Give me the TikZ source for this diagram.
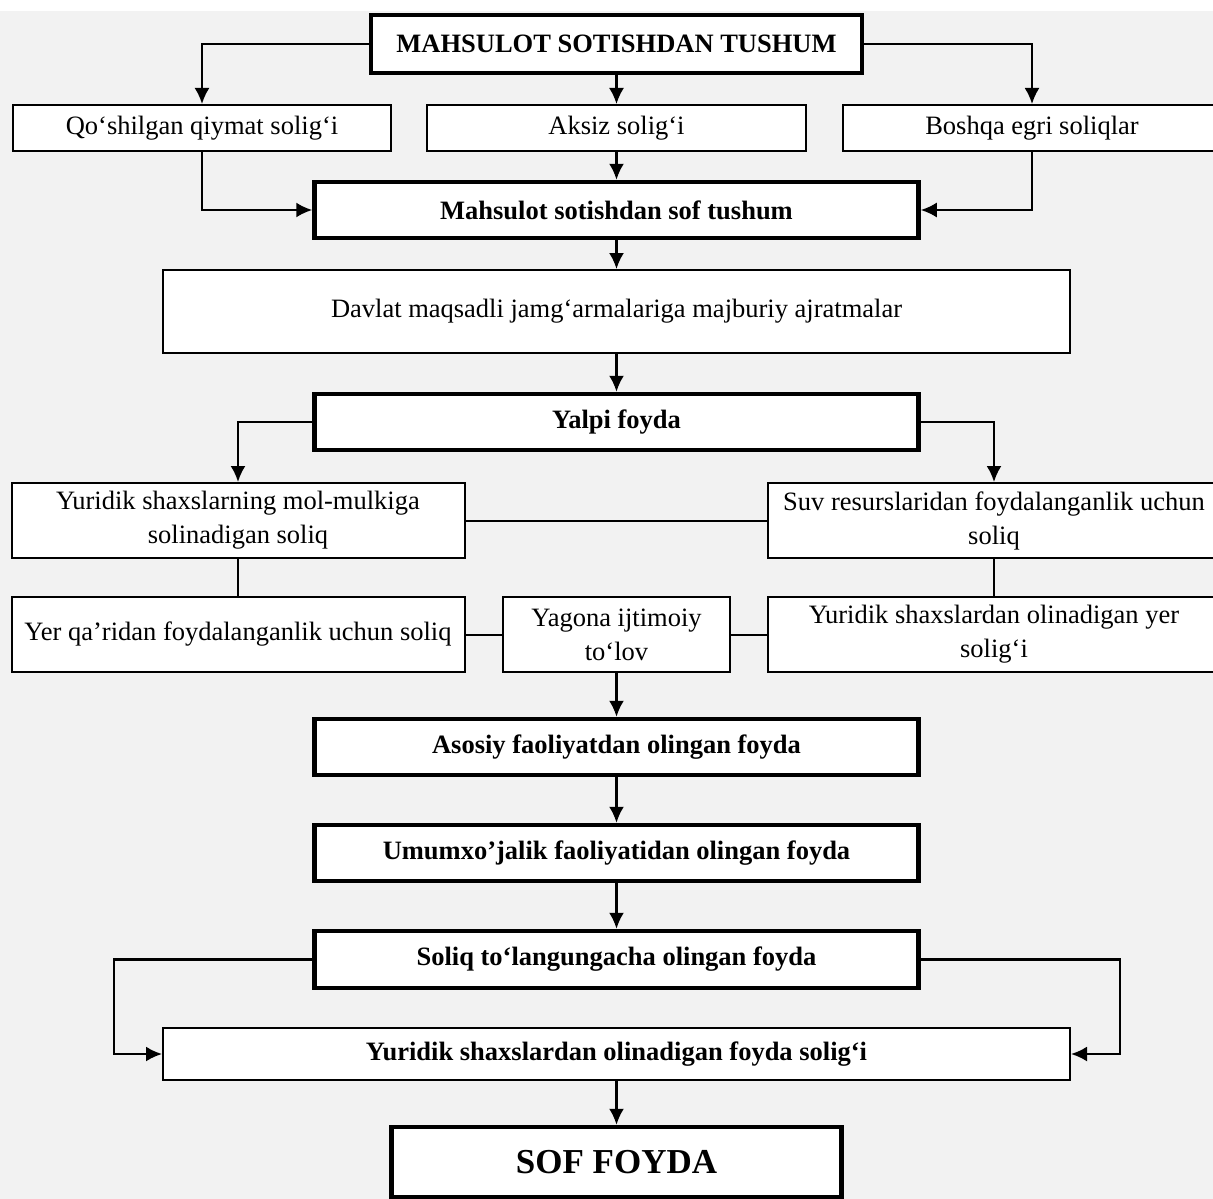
\documentclass[tikz,border=0pt]{standalone}
\usepackage{fontspec}
\setmainfont{Liberation Serif}
\usetikzlibrary{arrows.meta}
\definecolor{fond}{HTML}{F2F2F2}
\begin{document}
\begin{tikzpicture}[x=1pt,y=-1pt]
	% Styles
	\tikzstyle{fleche}=[->,>={Latex[length=16pt,width=15pt]},line width=2.2pt]
	\tikzstyle{trait}=[-,line width=2pt]
	\tikzstyle{boite}=[draw,fill=white,line width=2pt,inner sep=0pt,align=center,font=\fontsize{26.5}{34}\selectfont]
	\tikzstyle{etape}=[boite,line width=4.5pt,font=\bfseries\fontsize{26.5}{34}\selectfont]
	% Dimensions
	\def\Milieu{616.5}
	\def\Gauche{238}
	\def\Droite{994}
	% Fond
	\useasboundingbox (0,0) rectangle (1213,1199);
	\fill[fond] (0,11) rectangle (1213,1199);
	% Noeuds
	\node[etape,minimum width=491,minimum height=58] (tushum) at (\Milieu,44) {MAHSULOT SOTISHDAN TUSHUM};
	\node[boite,minimum width=378,minimum height=46] (qqs) at (202,128) {Qo‘shilgan qiymat solig‘i};
	\node[boite,minimum width=379,minimum height=46] (aksiz) at (\Milieu,128) {Aksiz solig‘i};
	\node[boite,minimum width=378,minimum height=46] (egri) at (1032,128) {Boshqa egri soliqlar};
	\node[etape,minimum width=604,minimum height=56] (softushum) at (\Milieu,210) {Mahsulot sotishdan sof tushum};
	\node[boite,minimum width=907,minimum height=83] (davlat) at (\Milieu,311.5) {Davlat maqsadli jamg‘armalariga majburiy ajratmalar};
	\node[etape,minimum width=604,minimum height=56] (yalpi) at (\Milieu,422) {Yalpi foyda};
	%
	\node[boite,minimum width=453,minimum height=75] (mulk) at (\Gauche,520.5) {Yuridik shaxslarning mol-mulkiga\\solinadigan soliq};
	\node[boite,minimum width=453,minimum height=75] (suv) at (\Droite,520.5) {Suv resurslaridan foydalanganlik uchun\\soliq};
	\node[boite,minimum width=453,minimum height=75] (qaridan) at (\Gauche,634.5) {Yer qa’ridan foydalanganlik uchun soliq};
	\node[boite,minimum width=227,minimum height=75] (yagona) at (\Milieu,634.5) {Yagona ijtimoiy\\to‘lov};
	\node[boite,minimum width=453,minimum height=75] (yer) at (\Droite,634.5) {Yuridik shaxslardan olinadigan yer\\solig‘i};
	%
	\node[etape,minimum width=604,minimum height=56] (asosiy) at (\Milieu,747) {Asosiy faoliyatdan olingan foyda};
	\node[etape,minimum width=604,minimum height=56] (umumiy) at (\Milieu,853) {Umumxo’jalik faoliyatidan olingan foyda};
	\node[etape,minimum width=604,minimum height=57] (gacha) at (\Milieu,959.5) {Soliq to‘langungacha olingan foyda};
	\node[boite,font=\bfseries\fontsize{26.5}{34}\selectfont,minimum width=907,minimum height=52] (foydasoligi) at (\Milieu,1054) {Yuridik shaxslardan olinadigan foyda solig‘i};
	\node[etape,font=\bfseries\fontsize{35}{40}\selectfont,minimum width=450,minimum height=70] (sof) at (\Milieu,1162) {SOF FOYDA};
	% Arcs
	\draw[fleche] (tushum.west) -| (qqs.north);
	\draw[fleche] (tushum.south) -- (aksiz.north);
	\draw[fleche] (tushum.east) -| (egri.north);
	\draw[fleche] (qqs.south) |- (softushum.west);
	\draw[fleche] (aksiz.south) -- (softushum.north);
	\draw[fleche] (egri.south) |- (softushum.east);
	\draw[fleche] (softushum.south) -- (davlat.north);
	\draw[fleche] (davlat.south) -- (yalpi.north);
	\draw[fleche] (yalpi.west) -| (mulk.north);
	\draw[fleche] (yalpi.east) -| (suv.north);
	\draw[trait] (mulk.east) -- (suv.west);
	\draw[trait] (mulk.south) -- (qaridan.north);
	\draw[trait] (suv.south) -- (yer.north);
	\draw[trait] (qaridan.east) -- (yagona.west);
	\draw[trait] (yagona.east) -- (yer.west);
	\draw[fleche] (yagona.south) -- (asosiy.north);
	\draw[fleche] (asosiy.south) -- (umumiy.north);
	\draw[fleche] (umumiy.south) -- (gacha.north);
	\draw[fleche] (gacha.west) -- ++(-198,0) |- (foydasoligi.west);
	\draw[fleche] (gacha.east) -- ++(199,0) |- (foydasoligi.east);
	\draw[fleche] (foydasoligi.south) -- (sof.north);
\end{tikzpicture}
\end{document}
